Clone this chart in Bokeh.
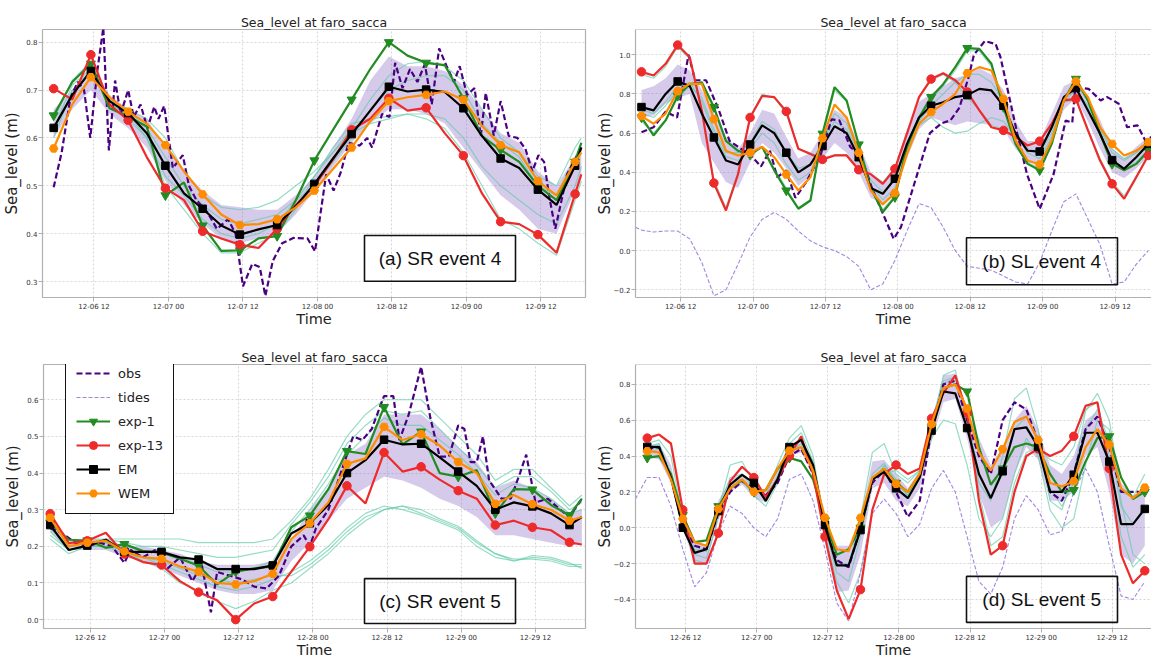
from bokeh.plotting import figure
from bokeh.models import (Range1d, FixedTicker, Label, BoxAnnotation, Legend,
                          LegendItem, Span, CustomJSTickFormatter)
from bokeh.layouts import row, column
from bokeh.embed import file_html
from bokeh.resources import INLINE

# ------------------------------------------------------------------ data
# hours since 12-06 00:00 (event 4) / 12-26 00:00 (event 5)
tick_hours = [12, 24, 36, 48, 60, 72, 84]
xlabels_ev4 = ["12-06 12", "12-07 00", "12-07 12", "12-08 00", "12-08 12", "12-09 00", "12-09 12"]
xlabels_ev5 = ["12-26 12", "12-27 00", "12-27 12", "12-28 00", "12-28 12", "12-29 00", "12-29 12"]
yt_a = [0.3, 0.4, 0.5, 0.6, 0.7, 0.8]
yt_b = [-0.2, 0.0, 0.2, 0.4, 0.6, 0.8, 1.0]
yt_c = [0.0, 0.1, 0.2, 0.3, 0.4, 0.5, 0.6]
yt_d = [-0.4, -0.2, 0.0, 0.2, 0.4, 0.6, 0.8]

# ---------------- (a) SR event 4
t_a = [5.5, 8.5, 11.5, 14.5, 17.5, 20.5, 23.5, 26.5, 29.5, 32.5, 35.5, 38.5, 41.5, 44.5, 47.5,
       50.5, 53.5, 56.5, 59.5, 62.5, 65.5, 68.5, 71.5, 74.5, 77.5, 80.5, 83.5, 86.5, 89.5, 90.5]
em_a = [0.621, 0.69, 0.740, 0.677, 0.652, 0.61, 0.542, 0.484, 0.452, 0.417, 0.398, 0.409, 0.418, 0.457, 0.504,
        0.557, 0.608, 0.657, 0.707, 0.697, 0.701, 0.696, 0.662, 0.604, 0.557, 0.537, 0.492, 0.46, 0.542, 0.58]
exp1_a = [0.647, 0.717, 0.755, 0.662, 0.645, 0.624, 0.48, 0.507, 0.417, 0.364, 0.365, 0.39, 0.395, 0.47, 0.553,
          0.617, 0.68, 0.744, 0.80, 0.772, 0.757, 0.752, 0.683, 0.604, 0.575, 0.55, 0.50, 0.47, 0.55, 0.59]
exp13_a = [0.703, 0.68, 0.774, 0.67, 0.637, 0.56, 0.495, 0.47, 0.405, 0.39, 0.377, 0.37, 0.41, 0.46, 0.50,
           0.555, 0.617, 0.64, 0.683, 0.657, 0.663, 0.61, 0.563, 0.484, 0.425, 0.42, 0.398, 0.36, 0.483, 0.524]
wem_a = [0.578, 0.67, 0.727, 0.685, 0.655, 0.63, 0.585, 0.53, 0.482, 0.44, 0.418, 0.42, 0.43, 0.455, 0.49,
         0.535, 0.58, 0.635, 0.677, 0.685, 0.69, 0.697, 0.68, 0.625, 0.585, 0.57, 0.51, 0.48, 0.55, 0.57]
lo_a = [0.6, 0.66, 0.7, 0.65, 0.62, 0.58, 0.51, 0.46, 0.42, 0.39, 0.38, 0.39, 0.4, 0.44, 0.49,
        0.54, 0.59, 0.63, 0.66, 0.66, 0.65, 0.63, 0.58, 0.53, 0.48, 0.45, 0.41, 0.4, 0.49, 0.52]
hi_a = [0.66, 0.7, 0.75, 0.69, 0.66, 0.64, 0.58, 0.53, 0.49, 0.46, 0.455, 0.45, 0.45, 0.48, 0.52,
        0.58, 0.64, 0.72, 0.77, 0.75, 0.75, 0.74, 0.71, 0.66, 0.61, 0.59, 0.53, 0.5, 0.56, 0.58]
mem_a = [
    [0.64, 0.72, 0.75, 0.68, 0.66, 0.64, 0.6, 0.53, 0.48, 0.455, 0.45, 0.455, 0.47, 0.5, 0.53,
     0.57, 0.62, 0.68, 0.73, 0.755, 0.76, 0.75, 0.72, 0.66, 0.6, 0.57, 0.52, 0.5, 0.58, 0.6],
    [0.64, 0.72, 0.76, 0.68, 0.64, 0.6, 0.5, 0.45, 0.4, 0.36, 0.36, 0.38, 0.4, 0.45, 0.52,
     0.58, 0.63, 0.64, 0.645, 0.65, 0.64, 0.62, 0.57, 0.5, 0.43, 0.41, 0.38, 0.355, 0.47, 0.51],
    [0.6, 0.7, 0.74, 0.67, 0.655, 0.62, 0.56, 0.5, 0.46, 0.43, 0.42, 0.43, 0.44, 0.47, 0.5,
     0.55, 0.6, 0.66, 0.7, 0.72, 0.73, 0.73, 0.7, 0.63, 0.59, 0.56, 0.5, 0.48, 0.56, 0.59],
    [0.62, 0.71, 0.745, 0.67, 0.65, 0.6, 0.52, 0.48, 0.43, 0.4, 0.39, 0.4, 0.42, 0.47, 0.52,
     0.57, 0.61, 0.63, 0.64, 0.65, 0.65, 0.64, 0.6, 0.54, 0.5, 0.47, 0.44, 0.42, 0.5, 0.54],
]
obs_a_t = [5.5, 6.8, 8.2, 9.4, 10.4, 11.4, 12.5, 13.5, 14.4, 15.4, 16.3, 17.5, 18.4, 19.5, 20.6, 21.7,
           22.4, 23.3, 24.7, 26.3, 27.3, 28.5, 30.3, 31.8, 33.6, 34.8, 36.0, 37.5, 38.7, 39.6, 40.8,
           42.3, 44.1, 46.4, 47.6, 49.4, 50.6, 51.8, 53.0, 54.8, 56.0, 56.8, 58.4, 59.6, 60.5, 61.7,
           62.9, 64.1, 65.3, 66.4, 67.6, 68.8, 70.0, 70.9, 72.1, 73.3, 74.3, 75.1, 76.4, 77.5, 78.8,
           80.2, 81.5, 82.6, 83.6, 84.5, 85.3, 86.3, 87.1, 88.2, 90.5]
obs_a_v = [0.497, 0.57, 0.684, 0.717, 0.70, 0.60, 0.737, 0.83, 0.574, 0.72, 0.65, 0.70, 0.644, 0.67, 0.62,
           0.665, 0.64, 0.667, 0.537, 0.564, 0.50, 0.47, 0.444, 0.41, 0.43, 0.40, 0.29, 0.337, 0.33, 0.27,
           0.343, 0.38, 0.391, 0.39, 0.363, 0.524, 0.49, 0.53, 0.59, 0.584, 0.60, 0.58, 0.65, 0.644, 0.757,
           0.704, 0.744, 0.717, 0.754, 0.67, 0.787, 0.75, 0.717, 0.75, 0.69, 0.704, 0.604, 0.694, 0.605,
           0.677, 0.604, 0.60, 0.577, 0.53, 0.564, 0.55, 0.48, 0.41, 0.457, 0.524, 0.58]

# ---------------- (b) SL event 4
t_b = [5.5, 7.5, 9.5, 11.5, 13.5, 15.5, 17.5, 19.5, 21.5, 23.5, 25.5, 27.5, 29.5, 31.5, 33.5, 35.5,
       37.5, 39.5, 41.5, 43.5, 45.5, 47.5, 49.5, 51.5, 53.5, 55.5, 57.5, 59.5, 61.5, 63.5, 65.5, 67.5,
       69.5, 71.5, 73.5, 75.5, 77.5, 79.5, 81.5, 83.5, 85.5, 87.5, 89.5]
em_b = [0.733, 0.716, 0.80, 0.864, 0.84, 0.70, 0.578, 0.46, 0.44, 0.542, 0.64, 0.60, 0.50, 0.40, 0.44,
        0.534, 0.635, 0.60, 0.477, 0.32, 0.29, 0.367, 0.545, 0.68, 0.74, 0.758, 0.784, 0.794, 0.826,
        0.818, 0.74, 0.597, 0.51, 0.506, 0.63, 0.784, 0.83, 0.716, 0.597, 0.462, 0.418, 0.477, 0.545]
exp1_b = [0.68, 0.588, 0.665, 0.79, 0.85, 0.86, 0.733, 0.56, 0.51, 0.49, 0.53, 0.41, 0.307, 0.214, 0.256,
          0.597, 0.835, 0.767, 0.542, 0.32, 0.197, 0.273, 0.53, 0.68, 0.784, 0.85, 0.937, 1.034, 1.03,
          0.954, 0.733, 0.545, 0.443, 0.41, 0.545, 0.767, 0.877, 0.767, 0.597, 0.443, 0.41, 0.443, 0.51]
exp13_b = [0.913, 0.894, 0.954, 1.05, 0.988, 0.716, 0.345, 0.205, 0.39, 0.68, 0.79, 0.784, 0.711, 0.52,
           0.494, 0.466, 0.486, 0.486, 0.413, 0.39, 0.341, 0.418, 0.597, 0.784, 0.876, 0.906, 0.87, 0.81,
           0.716, 0.63, 0.614, 0.58, 0.537, 0.559, 0.648, 0.767, 0.775, 0.614, 0.46, 0.341, 0.265, 0.375, 0.486]
wem_b = [0.687, 0.648, 0.70, 0.814, 0.852, 0.852, 0.671, 0.51, 0.486, 0.50, 0.53, 0.477, 0.389, 0.307,
         0.375, 0.574, 0.746, 0.68, 0.50, 0.307, 0.236, 0.294, 0.494, 0.648, 0.707, 0.75, 0.80, 0.906,
         0.937, 0.92, 0.775, 0.563, 0.46, 0.44, 0.563, 0.767, 0.864, 0.784, 0.63, 0.545, 0.486, 0.51, 0.554]
lo_b = [0.68, 0.69, 0.75, 0.78, 0.80, 0.55, 0.45, 0.35, 0.32, 0.45, 0.55, 0.50, 0.42, 0.33, 0.38, 0.47,
        0.55, 0.50, 0.40, 0.27, 0.24, 0.30, 0.47, 0.62, 0.68, 0.66, 0.64, 0.66, 0.65, 0.64, 0.62, 0.52,
        0.45, 0.44, 0.55, 0.72, 0.78, 0.66, 0.52, 0.40, 0.37, 0.42, 0.48]
hi_b = [0.82, 0.84, 0.88, 0.95, 0.92, 0.82, 0.70, 0.58, 0.52, 0.60, 0.72, 0.70, 0.58, 0.47, 0.50, 0.60,
        0.72, 0.68, 0.55, 0.40, 0.35, 0.43, 0.62, 0.76, 0.80, 0.84, 0.88, 0.90, 0.93, 0.90, 0.82, 0.66,
        0.56, 0.56, 0.70, 0.84, 0.87, 0.78, 0.67, 0.52, 0.47, 0.53, 0.58]
mem_b = [
    [0.9, 0.88, 0.94, 1.04, 0.98, 0.7, 0.36, 0.22, 0.4, 0.68, 0.8, 0.78, 0.7, 0.52, 0.5, 0.47, 0.49, 0.49,
     0.42, 0.39, 0.35, 0.42, 0.6, 0.78, 0.87, 0.9, 0.86, 0.78, 0.72, 0.64, 0.62, 0.58, 0.54, 0.56, 0.65,
     0.76, 0.77, 0.62, 0.47, 0.35, 0.28, 0.38, 0.49],
    [0.66, 0.6, 0.67, 0.78, 0.84, 0.85, 0.72, 0.56, 0.5, 0.49, 0.53, 0.42, 0.32, 0.22, 0.26, 0.58, 0.82,
     0.76, 0.55, 0.33, 0.21, 0.28, 0.52, 0.67, 0.77, 0.84, 0.92, 1.02, 1.02, 0.94, 0.73, 0.55, 0.45, 0.42,
     0.55, 0.76, 0.86, 0.76, 0.6, 0.45, 0.42, 0.45, 0.52],
    [0.7, 0.68, 0.74, 0.82, 0.84, 0.78, 0.62, 0.5, 0.5, 0.55, 0.66, 0.62, 0.5, 0.42, 0.44, 0.56, 0.66,
     0.62, 0.5, 0.36, 0.3, 0.36, 0.52, 0.64, 0.68, 0.63, 0.6, 0.61, 0.65, 0.68, 0.66, 0.58, 0.52, 0.5,
     0.6, 0.76, 0.82, 0.74, 0.63, 0.52, 0.47, 0.5, 0.56],
    [0.72, 0.7, 0.76, 0.84, 0.86, 0.76, 0.6, 0.48, 0.46, 0.52, 0.6, 0.55, 0.44, 0.36, 0.4, 0.56, 0.7,
     0.65, 0.5, 0.33, 0.26, 0.32, 0.5, 0.66, 0.74, 0.8, 0.86, 0.9, 0.9, 0.86, 0.76, 0.6, 0.5, 0.47, 0.58,
     0.78, 0.85, 0.77, 0.62, 0.5, 0.46, 0.5, 0.56],
]
obs_b_t = [5.5, 7.5, 9.5, 11.4, 13.3, 14.4, 16.2, 18.3, 20.1, 22.0, 23.8, 25.3, 26.8, 28.0, 29.5, 31.0,
           32.8, 35.2, 37.0, 38.3, 40.1, 41.9, 43.7, 45.5, 47.3, 48.5, 50.9, 53.3, 55.2, 56.7, 58.2,
           59.7, 60.6, 62.4, 64.2, 65.0, 67.8, 69.4, 71.5, 73.8, 75.8, 76.9, 77.4, 79.6, 81.6, 82.7,
           84.6, 86.0, 87.7, 89.0, 90.0]
obs_b_v = [0.605, 0.63, 0.71, 0.68, 1.0, 0.87, 0.87, 0.72, 0.56, 0.52, 0.48, 0.43, 0.51, 0.375, 0.41,
           0.27, 0.35, 0.49, 0.67, 0.665, 0.53, 0.48, 0.32, 0.19, 0.06, 0.12, 0.36, 0.6, 0.65, 0.665,
           0.73, 0.885, 1.0, 1.07, 1.055, 0.988, 0.596, 0.39, 0.213, 0.39, 0.664, 0.654, 0.835, 0.826,
           0.767, 0.784, 0.75, 0.63, 0.64, 0.562, 0.58]
tides_b_t = [4.5, 5.5, 7.5, 9.5, 11.5, 13.5, 15.5, 17.5, 19.5, 21.5, 23.5, 25.5, 27.5, 29.5, 31.5, 33.5,
             35.5, 37.5, 39.5, 41.5, 43.5, 45.5, 47.5, 49.5, 51.5, 53.5, 55.5, 57.5, 59.5, 61.5, 63.5,
             65.5, 67.5, 69.5, 71.5, 73.5, 75.5, 77.5, 79.5, 81.5, 83.5, 85.5, 87.5, 89.5]
tides_b_v = [0.12, 0.105, 0.095, 0.10, 0.10, 0.06, -0.06, -0.23, -0.2, -0.07, 0.07, 0.16, 0.195, 0.16,
             0.1, 0.05, 0.02, 0.0, -0.03, -0.08, -0.2, -0.17, -0.05, 0.1, 0.24, 0.22, 0.12, 0.0, -0.08,
             -0.09, -0.1, -0.13, -0.16, -0.17, -0.06, 0.1, 0.25, 0.29, 0.16, 0.03, -0.17, -0.16, -0.07, 0.0]

# ---------------- (c) SR event 5
t_c = [5.5, 8.5, 11.5, 14.5, 17.5, 20.5, 23.5, 26.5, 29.5, 32.5, 35.5, 38.5, 41.5, 44.5, 47.5,
       50.5, 53.5, 56.5, 59.5, 62.5, 65.5, 68.5, 71.5, 74.5, 77.5, 80.5, 83.5, 86.5, 89.5, 91.5]
em_c = [0.258, 0.19, 0.202, 0.218, 0.185, 0.185, 0.185, 0.17, 0.164, 0.138, 0.138, 0.138, 0.148, 0.235,
        0.263, 0.313, 0.40, 0.435, 0.491, 0.478, 0.48, 0.443, 0.404, 0.365, 0.30, 0.32, 0.309, 0.29, 0.258, 0.28]
exp1_c = [0.265, 0.218, 0.216, 0.196, 0.206, 0.187, 0.183, 0.166, 0.147, 0.096, 0.131, 0.14, 0.145, 0.252,
          0.284, 0.356, 0.46, 0.452, 0.58, 0.478, 0.513, 0.40, 0.39, 0.408, 0.29, 0.356, 0.355, 0.313, 0.285, 0.33]
exp13_c = [0.289, 0.209, 0.215, 0.237, 0.179, 0.157, 0.149, 0.105, 0.075, 0.053, 0.0, 0.044, 0.063, 0.131,
           0.199, 0.274, 0.365, 0.317, 0.456, 0.404, 0.417, 0.382, 0.352, 0.33, 0.258, 0.27, 0.252, 0.244, 0.211, 0.205]
wem_c = [0.278, 0.2, 0.21, 0.215, 0.186, 0.17, 0.166, 0.145, 0.131, 0.1, 0.096, 0.105, 0.125, 0.22, 0.263,
         0.32, 0.425, 0.44, 0.526, 0.49, 0.506, 0.475, 0.43, 0.4, 0.316, 0.34, 0.315, 0.3, 0.27, 0.28]
lo_c = [0.24, 0.19, 0.19, 0.19, 0.17, 0.16, 0.14, 0.12, 0.1, 0.08, 0.07, 0.07, 0.08, 0.16, 0.21,
        0.27, 0.33, 0.36, 0.39, 0.38, 0.36, 0.33, 0.31, 0.28, 0.23, 0.23, 0.22, 0.21, 0.2, 0.21]
hi_c = [0.28, 0.21, 0.22, 0.22, 0.2, 0.2, 0.19, 0.18, 0.16, 0.15, 0.15, 0.15, 0.16, 0.22, 0.3,
        0.36, 0.45, 0.48, 0.56, 0.56, 0.56, 0.52, 0.47, 0.43, 0.36, 0.38, 0.36, 0.33, 0.29, 0.3]
mem_c = [
    [0.24, 0.19, 0.2, 0.2, 0.18, 0.17, 0.15, 0.13, 0.11, 0.09, 0.08, 0.09, 0.11, 0.13, 0.16,
     0.2, 0.25, 0.29, 0.31, 0.3, 0.285, 0.265, 0.245, 0.2, 0.17, 0.16, 0.17, 0.165, 0.15, 0.15],
    [0.22, 0.18, 0.2, 0.21, 0.19, 0.16, 0.14, 0.1, 0.08, 0.05, 0.03, 0.05, 0.08, 0.1, 0.14,
     0.18, 0.23, 0.27, 0.3, 0.31, 0.29, 0.27, 0.25, 0.21, 0.18, 0.16, 0.175, 0.17, 0.155, 0.14],
    [0.23, 0.19, 0.2, 0.2, 0.19, 0.17, 0.16, 0.14, 0.12, 0.11, 0.1, 0.11, 0.12, 0.12, 0.15,
     0.19, 0.24, 0.28, 0.3, 0.31, 0.3, 0.275, 0.255, 0.215, 0.18, 0.165, 0.165, 0.16, 0.145, 0.145],
    [0.26, 0.21, 0.22, 0.22, 0.22, 0.22, 0.22, 0.22, 0.21, 0.21, 0.21, 0.21, 0.22, 0.27, 0.33,
     0.41, 0.5, 0.56, 0.6, 0.6, 0.6, 0.55, 0.5, 0.45, 0.38, 0.41, 0.41, 0.36, 0.31, 0.34],
    [0.25, 0.2, 0.21, 0.22, 0.21, 0.2, 0.2, 0.19, 0.18, 0.17, 0.17, 0.18, 0.19, 0.26, 0.32,
     0.39, 0.48, 0.53, 0.57, 0.56, 0.57, 0.52, 0.47, 0.42, 0.36, 0.39, 0.39, 0.35, 0.3, 0.32],
    [0.25, 0.2, 0.21, 0.21, 0.2, 0.19, 0.18, 0.17, 0.15, 0.13, 0.13, 0.14, 0.16, 0.24, 0.3,
     0.37, 0.45, 0.5, 0.55, 0.53, 0.53, 0.49, 0.45, 0.4, 0.34, 0.37, 0.36, 0.33, 0.29, 0.3],
]
obs_c_t = [5.5, 7.5, 9.5, 11.5, 13.5, 15.5, 17.5, 18.5, 20.5, 22.5, 24.5, 26.5, 28.5, 30.0, 31.5, 32.5,
           34.5, 36.5, 38.5, 40.5, 42.5, 44.5, 46.5, 47.5, 48.5, 50.5, 52.5, 54.5, 56.0, 57.5, 59.5,
           61.0, 62.0, 63.5, 65.5, 67.0, 68.5, 70.0, 71.5, 72.5, 73.5, 74.5, 75.5, 76.5, 78.5, 80.0,
           81.5, 82.5, 84.0, 86.0, 88.0, 89.5, 91.5]
obs_c_v = [0.25, 0.235, 0.21, 0.2, 0.21, 0.2, 0.155, 0.19, 0.17, 0.19, 0.14, 0.17, 0.105, 0.15, 0.02, 0.13,
           0.12, 0.11, 0.09, 0.085, 0.12, 0.2, 0.23, 0.2, 0.25, 0.3, 0.4, 0.5, 0.49, 0.52, 0.61, 0.61,
           0.49, 0.56, 0.69, 0.55, 0.445, 0.445, 0.53, 0.52, 0.43, 0.43, 0.5, 0.38, 0.33, 0.33, 0.4,
           0.45, 0.32, 0.33, 0.3, 0.28, 0.33]

# ---------------- (d) SL event 5
t_d = [5.5, 7.5, 9.5, 11.5, 13.5, 15.5, 17.5, 19.5, 21.5, 23.5, 25.5, 27.5, 29.5, 31.5, 33.5, 35.5,
       37.5, 39.5, 41.5, 43.5, 45.5, 47.5, 49.5, 51.5, 53.5, 55.5, 57.5, 59.5, 61.5, 63.5, 65.5, 67.5,
       69.5, 71.5, 73.5, 75.5, 77.5, 79.5, 81.5, 83.5, 85.5, 87.5, 89.5]
em_d = [0.451, 0.45, 0.28, 0.0, -0.14, -0.12, 0.093, 0.24, 0.295, 0.25, 0.15, 0.27, 0.45, 0.49, 0.35,
        0.015, -0.21, -0.21, -0.013, 0.27, 0.31, 0.22, 0.165, 0.28, 0.542, 0.76, 0.75, 0.556, 0.3, 0.165,
        0.315, 0.55, 0.56, 0.451, 0.2, 0.2, 0.296, 0.53, 0.53, 0.369, 0.02, 0.02, 0.105]
exp1_d = [0.39, 0.40, 0.3, 0.07, -0.08, -0.07, 0.12, 0.22, 0.265, 0.2, 0.21, 0.33, 0.39, 0.37, 0.27,
          0.04, -0.15, -0.12, 0.0, 0.27, 0.33, 0.25, 0.2, 0.3, 0.56, 0.78, 0.8, 0.76, 0.45, 0.24, 0.33,
          0.45, 0.47, 0.45, 0.3, 0.2, 0.21, 0.37, 0.5, 0.51, 0.28, 0.16, 0.2]
exp13_d = [0.5, 0.52, 0.47, 0.1, -0.2, -0.2, -0.03, 0.26, 0.34, 0.28, 0.17, 0.27, 0.4, 0.51, 0.3,
           -0.05, -0.35, -0.51, -0.345, 0.1, 0.3, 0.35, 0.3, 0.33, 0.61, 0.75, 0.85, 0.64, 0.15, -0.15,
           -0.1, 0.2, 0.4, 0.44, 0.4, 0.43, 0.51, 0.68, 0.7, 0.33, -0.15, -0.31, -0.24]
wem_d = [0.427, 0.42, 0.27, 0.05, -0.08, -0.1, 0.105, 0.22, 0.27, 0.2, 0.21, 0.33, 0.43, 0.45, 0.32,
         0.056, -0.12, -0.13, 0.055, 0.28, 0.33, 0.245, 0.2, 0.3, 0.578, 0.78, 0.8, 0.665, 0.42, 0.32,
         0.438, 0.59, 0.62, 0.49, 0.25, 0.23, 0.26, 0.45, 0.55, 0.464, 0.22, 0.165, 0.224]
lo_d = [0.4, 0.38, 0.25, 0.0, -0.2, -0.2, 0.05, 0.2, 0.24, 0.17, 0.14, 0.27, 0.4, 0.42, 0.3, -0.05,
        -0.36, -0.35, -0.15, 0.22, 0.25, 0.15, 0.12, 0.22, 0.48, 0.7, 0.72, 0.5, 0.2, 0.0, 0.05, 0.3,
        0.45, 0.38, 0.15, 0.15, 0.2, 0.4, 0.45, 0.2, -0.15, -0.2, -0.1]
hi_d = [0.46, 0.47, 0.35, 0.05, -0.08, -0.1, 0.15, 0.27, 0.3, 0.22, 0.2, 0.33, 0.46, 0.5, 0.38, 0.03,
        -0.1, -0.1, 0.05, 0.37, 0.38, 0.3, 0.22, 0.32, 0.6, 0.85, 0.86, 0.66, 0.5, 0.35, 0.45, 0.6,
        0.68, 0.55, 0.35, 0.3, 0.4, 0.6, 0.65, 0.45, 0.25, 0.18, 0.2]
mem_d = [
    [0.45, 0.47, 0.3, 0.05, -0.12, -0.12, 0.1, 0.35, 0.37, 0.25, 0.17, 0.35, 0.5, 0.57, 0.4, 0.02,
     -0.2, -0.22, 0.05, 0.42, 0.47, 0.3, 0.25, 0.32, 0.55, 0.85, 0.88, 0.6, 0.25, 0.15, 0.4, 0.72,
     0.78, 0.55, 0.15, 0.1, 0.3, 0.65, 0.75, 0.6, 0.2, 0.17, 0.3],
    [0.42, 0.44, 0.28, 0.02, -0.15, -0.17, 0.05, 0.25, 0.27, 0.18, 0.12, 0.25, 0.42, 0.47, 0.32, 0.0,
     -0.25, -0.3, -0.05, 0.25, 0.35, 0.27, 0.18, 0.3, 0.5, 0.6, 0.58, 0.35, 0.05, -0.05, 0.05, 0.3,
     0.5, 0.4, 0.1, 0.0, 0.05, 0.35, 0.6, 0.55, 0.15, -0.15, -0.2],
    [0.44, 0.46, 0.3, 0.02, -0.13, -0.13, 0.1, 0.28, 0.3, 0.22, 0.16, 0.29, 0.47, 0.53, 0.37, 0.02,
     -0.2, -0.2, 0.02, 0.3, 0.36, 0.25, 0.18, 0.3, 0.56, 0.82, 0.84, 0.62, 0.3, 0.18, 0.3, 0.55,
     0.62, 0.48, 0.22, 0.12, 0.25, 0.55, 0.66, 0.48, 0.12, 0.02, 0.12],
    [0.47, 0.49, 0.4, 0.05, -0.18, -0.2, -0.02, 0.24, 0.3, 0.25, 0.17, 0.27, 0.42, 0.5, 0.3, -0.05,
     -0.3, -0.42, -0.25, 0.1, 0.3, 0.32, 0.27, 0.32, 0.6, 0.8, 0.84, 0.6, 0.2, -0.1, -0.05, 0.25,
     0.42, 0.45, 0.38, 0.35, 0.45, 0.66, 0.7, 0.4, -0.05, -0.22, -0.15],
]
obs_d_v = [0.44, 0.45, 0.28, 0.02, -0.1, -0.12, 0.08, 0.2, 0.26, 0.22, 0.18, 0.25, 0.4, 0.44, 0.3, 0.0,
           -0.18, -0.22, 0.0, 0.25, 0.32, 0.2, 0.06, 0.15, 0.55, 0.8, 0.82, 0.6, 0.4, 0.3, 0.6, 0.7,
           0.66, 0.48, 0.2, 0.15, 0.3, 0.55, 0.62, 0.45, 0.2, 0.2, 0.2]
tides_d_t = [3.5, 5.5, 7.5, 9.5, 11.5, 13.5, 15.5, 17.5, 19.5, 21.5, 23.5, 25.5, 27.5, 29.5, 31.5, 33.5,
             35.5, 37.5, 39.5, 41.5, 43.5, 45.5, 47.5, 49.5, 51.5, 53.5, 55.5, 57.5, 59.5, 61.5, 63.5,
             65.5, 67.5, 69.5, 71.5, 73.5, 75.5, 77.5, 79.5, 81.5, 83.5, 85.5, 87.5, 89.5]
tides_d_v = [0.16, 0.28, 0.28, 0.12, -0.12, -0.33, -0.25, -0.03, 0.12, 0.08, 0.0, -0.05, 0.05, 0.27, 0.3,
             0.15, -0.12, -0.42, -0.52, -0.25, 0.08, 0.16, 0.08, -0.05, 0.02, 0.22, 0.32, 0.2, -0.05,
             -0.3, -0.37, -0.22, 0.05, 0.18, 0.1, -0.04, -0.02, 0.2, 0.33, 0.2, -0.1, -0.38, -0.4, -0.3]

# ------------------------------------------------------------------ style
C_OBS = "#4b0082"
C_TIDE = "#9370db"
C_EXP1 = "#228b22"
C_EXP13 = "#ee2a2a"
C_EM = "#000000"
C_WEM = "#ff8c00"
C_MEM = "#5fc9a8"
C_BAND = "#8c6bc8"
FONT = "DejaVu Sans"
GREY = "#b0b0b0"


def make_panel(geom, xr, yr, yticks, xlabels, open_right, ylab_standoff, box, box_text,
               t, em, e1, e13, wem, lo, hi, members, obs_t, obs_v, tides_t=None, tides_v=None,
               legend=False):
    ox, oy, W, H, L, T, R, B = geom
    p = figure(width=W, height=H, x_range=Range1d(*xr), y_range=Range1d(*yr),
               output_backend="svg", toolbar_location=None, title="Sea_level at faro_sacca",
               min_border_left=L - ox, min_border_right=ox + W - R,
               min_border_top=T - oy, min_border_bottom=oy + H - B,
               background_fill_color="white", border_fill_color="white")
    p.title.align = "center"
    p.title.text_font = FONT
    p.title.text_font_size = "12.5px"
    p.title.text_font_style = "normal"
    p.title.text_color = "#222222"
    p.title.standoff = 0
    p.title.offset = 0

    def dx(px):
        return xr[0] + (px - L) / (R - L) * (xr[1] - xr[0])

    def dy(py):
        return yr[1] - (py - T) / (B - T) * (yr[1] - yr[0])

    # axes
    p.xaxis.ticker = FixedTicker(ticks=tick_hours)
    p.xaxis.formatter = CustomJSTickFormatter(args=dict(labels=xlabels),
                                              code="const i = Math.round(tick / 12) - 1; return labels[i] || '';")
    p.yaxis.ticker = FixedTicker(ticks=yticks)
    p.yaxis.formatter = CustomJSTickFormatter(code="return tick.toFixed(1).replace('-', '\u2212');")
    for ax in (p.xaxis[0], p.yaxis[0]):
        ax.major_tick_line_color = GREY
        ax.major_tick_out = 4
        ax.major_tick_in = 0
        ax.minor_tick_line_color = None
        ax.major_label_text_font = FONT
        ax.major_label_text_font_size = "7px"
        ax.major_label_text_color = "#333333"
        ax.major_label_standoff = 1
        ax.axis_label_text_font = FONT
        ax.axis_label_text_font_style = "normal"
        ax.axis_label_text_color = "#222222"
    p.xaxis.axis_label = "Time"
    p.xaxis.axis_label_text_font_size = "14.5px"
    p.xaxis.axis_label_standoff = -3
    p.yaxis.axis_label = "Sea_level (m)"
    p.yaxis.axis_label_text_font_size = "15px"
    p.yaxis.axis_label_standoff = ylab_standoff
    p.xgrid.ticker = FixedTicker(ticks=tick_hours)
    p.ygrid.ticker = FixedTicker(ticks=yticks)
    p.grid.grid_line_color = "#d6d6d6"
    p.grid.grid_line_dash = "2 2"
    p.grid.grid_line_width = 1
    if open_right:
        p.outline_line_color = None
        p.axis.axis_line_color = GREY
        p.axis.axis_line_width = 1.2
        p.add_layout(Span(location=yr[1], dimension="width", line_color=GREY, line_width=1.2))
    else:
        p.outline_line_color = GREY
        p.outline_line_width = 1.2
        p.axis.axis_line_color = None

    # data
    p.varea(x=t, y1=lo, y2=hi, fill_color=C_BAND, fill_alpha=0.36)
    for m in members:
        p.line(t, m, line_color=C_MEM, line_width=1.2, line_alpha=0.65)
    r_tide = None
    if tides_t is not None:
        r_tide = p.line(tides_t, tides_v, line_color=C_TIDE, line_width=1.1, line_dash="4 2", line_alpha=0.85)
    r_obs = p.line(obs_t, obs_v, line_color=C_OBS, line_width=2.2, line_dash="6 3")
    step = 2 if len(t) == 30 else 3
    last = 29 if len(t) == 30 else 43
    rends = {}
    for name, vals, col, mk, sz in (("exp-1", e1, C_EXP1, "inverted_triangle", 9),
                                     ("exp-13", e13, C_EXP13, "circle", 8.5),
                                     ("EM", em, C_EM, "square", 7.5),
                                     ("WEM", wem, C_WEM, "hex", 8.5)):
        rl = p.line(t, vals, line_color=col, line_width=2.2)
        rm = p.scatter(t[:last:step], vals[:last:step], marker=mk, size=sz,
                       fill_color=col, line_color=col)
        rends[name] = [rl, rm]

    # annotation box
    bx0, by0, bx1, by1 = box
    p.add_layout(BoxAnnotation(left=dx(bx0), right=dx(bx1), top=dy(by0), bottom=dy(by1),
                               fill_color=None, fill_alpha=0, line_color="#111111",
                               line_alpha=1.0, line_width=1.6))
    p.add_layout(Label(x=dx((bx0 + bx1) / 2), y=dy((by0 + by1) / 2), text=box_text,
                       text_font="Liberation Sans", text_font_size="19px", text_color="#111111",
                       text_align="center", text_baseline="middle"))

    if legend:
        if r_tide is None:
            r_tide = p.line([-50, -40], [0, 0], line_color=C_TIDE, line_width=1.1,
                            line_dash="4 2", line_alpha=0.85)
        items = [LegendItem(label="obs", renderers=[r_obs]),
                 LegendItem(label="tides", renderers=[r_tide]),
                 LegendItem(label="exp-1", renderers=rends["exp-1"]),
                 LegendItem(label="exp-13", renderers=rends["exp-13"]),
                 LegendItem(label="EM", renderers=rends["EM"]),
                 LegendItem(label="WEM", renderers=rends["WEM"])]
        lg = Legend(items=items, location=(22, 114), orientation="vertical",
                    label_text_font=FONT, label_text_font_size="13px", label_text_color="#222222",
                    glyph_width=34, glyph_height=20, label_height=20, spacing=4, padding=10,
                    label_standoff=8, margin=0, border_line_color="#111111", border_line_alpha=1.0,
                    border_line_width=1.5, background_fill_color="white", background_fill_alpha=1.0)
        p.add_layout(lg)
    return p


# geometry: origin x, origin y, width, height, frame L, T, R, B (window px)
geom_a = (0, 0, 592, 330, 42, 22, 585, 302)
geom_b = (592, 0, 559, 330, 635, 29, 1151, 297)
geom_c = (0, 330, 592, 330, 43, 356, 585, 633)
geom_d = (592, 330, 559, 330, 635, 364, 1151, 634)

pa = make_panel(geom_a, (3.705, 91.17), (0.2666, 0.8266), yt_a, xlabels_ev4, False, 2,
                (364, 237.3, 515, 285), "(a) SR event 4",
                t_a, em_a, exp1_a, exp13_a, wem_a, lo_a, hi_a, mem_a, obs_a_t, obs_a_v)
pb = make_panel(geom_b, (4.508, 90.03), (-0.2393, 1.1292), yt_b, xlabels_ev4, True, -3,
                (966, 237.3, 1117, 284.3), "(b) SL event 4",
                t_b, em_b, exp1_b, exp13_b, wem_b, lo_b, hi_b, mem_b, obs_b_t, obs_b_v,
                tides_b_t, tides_b_v)
pc = make_panel(geom_c, (4.414, 92.09), (-0.0242, 0.6962), yt_c, xlabels_ev5, False, 2,
                (364, 580.7, 515, 627.7), "(c) SR event 5",
                t_c, em_c, exp1_c, exp13_c, wem_c, lo_c, hi_c, mem_c, obs_c_t, obs_c_v, legend=True)
pd = make_panel(geom_d, (3.515, 90.63), (-0.562, 0.9107), yt_d, xlabels_ev5, True, -3,
                (966, 580.7, 1117, 627.7), "(d) SL event 5",
                t_d, em_d, exp1_d, exp13_d, wem_d, lo_d, hi_d, mem_d, t_d, obs_d_v,
                tides_d_t, tides_d_v)

layout = column(row(pa, pb, spacing=0), row(pc, pd, spacing=0), spacing=0)
open("out.html", "w").write(file_html(layout, INLINE))
